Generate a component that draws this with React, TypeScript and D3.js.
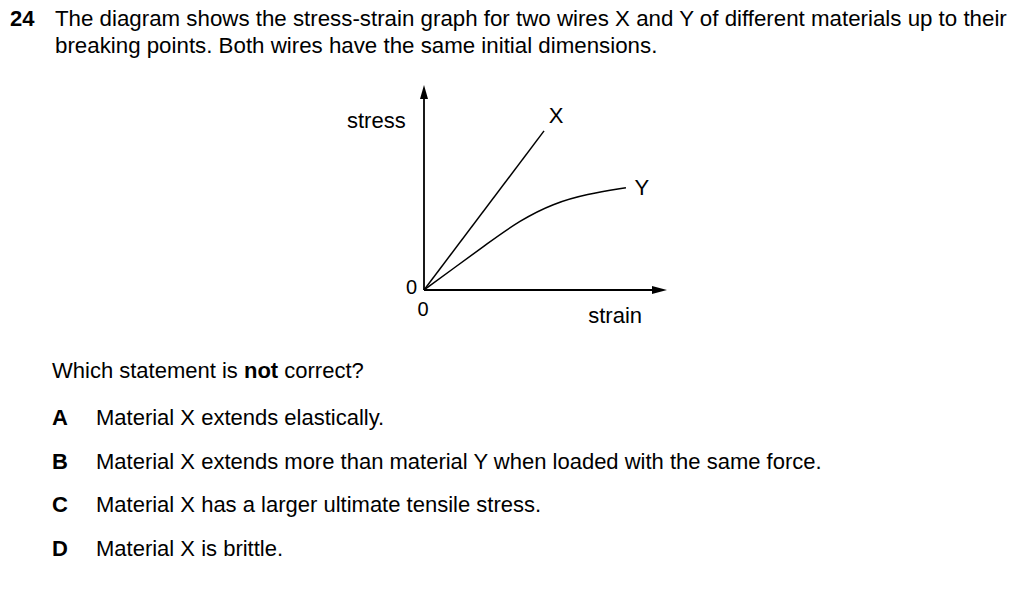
import React, { useRef, useEffect } from "react";
import * as d3 from "d3";

const width = 1024;
const height = 589;

// strain / stress in arbitrary units (axes go 0..10)
const lineX = [
  { strain: 0, stress: 0 },
  { strain: 4.94, stress: 7.76 }
];
const lineY = [
  { strain: 0, stress: 0 },
  { strain: 1.21, stress: 1.05 },
  { strain: 2.58, stress: 2.24 },
  { strain: 3.95, stress: 3.4 },
  { strain: 5.32, stress: 4.22 },
  { strain: 6.7, stress: 4.68 },
  { strain: 8.31, stress: 4.99 }
];

const questionLines = [
  "The diagram shows the stress-strain graph for two wires X and Y of different materials up to their",
  "breaking points. Both wires have the same initial dimensions."
];
const optionLetters = ["A", "B", "C", "D"];
const optionTexts = [
  "Material X extends elastically.",
  "Material X extends more than material Y when loaded with the same force.",
  "Material X has a larger ultimate tensile stress.",
  "Material X is brittle."
];

const font = "'Liberation Sans', Arial, sans-serif";
const fs = 22;

export default function App() {
  const ref = useRef<SVGSVGElement | null>(null);

  useEffect(() => {
    const svg = d3.select(ref.current);
    svg.selectAll("*").remove();

    svg.append("rect").attr("width", width).attr("height", height).attr("fill", "#fff");

    const txt = svg.append("g").attr("font-family", font).attr("fill", "#000");

    // question header
    txt.append("text").attr("x", 10).attr("y", 26).attr("font-size", fs)
      .attr("font-weight", "bold").text("24");
    questionLines.forEach((l, i) => {
      txt.append("text").attr("x", 55).attr("y", 26 + i * 27).attr("font-size", 22.3).text(l);
    });

    const x = d3.scaleLinear().domain([0, 10]).range([424, 667]);
    const y = d3.scaleLinear().domain([0, 10]).range([290, 85]);

    // axes
    const ax = svg.append("g").attr("stroke", "#000").attr("stroke-width", 1.8);
    ax.append("line").attr("x1", x(0)).attr("y1", y(0)).attr("x2", x(0)).attr("y2", y(10) + 10);
    ax.append("line").attr("x1", x(0)).attr("y1", y(0)).attr("x2", x(10) - 12).attr("y2", y(0));
    svg.append("path")
      .attr("d", `M${x(0)},${y(10)} L${x(0) - 4},${y(10) + 14} L${x(0) + 4},${y(10) + 14} Z`)
      .attr("fill", "#000");
    svg.append("path")
      .attr("d", `M${x(10)},${y(0)} L${x(10) - 15},${y(0) - 4} L${x(10) - 15},${y(0) + 4} Z`)
      .attr("fill", "#000");

    const line = d3.line<{ strain: number; stress: number }>()
      .x((d) => x(d.strain))
      .y((d) => y(d.stress))
      .curve(d3.curveBasis);

    [lineX, lineY].forEach((data) => {
      svg.append("path").attr("d", line(data)!).attr("fill", "none")
        .attr("stroke", "#000").attr("stroke-width", 1.5);
    });

    // labels
    txt.append("text").attr("x", 347).attr("y", 128).attr("font-size", fs).text("stress");
    txt.append("text").attr("x", 642).attr("y", 323).attr("font-size", fs)
      .attr("text-anchor", "end").text("strain");
    txt.append("text").attr("x", 417).attr("y", 294).attr("font-size", 20)
      .attr("text-anchor", "end").text("0");
    txt.append("text").attr("x", 423).attr("y", 316).attr("font-size", 20)
      .attr("text-anchor", "middle").text("0");
    const endX = lineX[lineX.length - 1];
    const endY = lineY[lineY.length - 1];
    txt.append("text").attr("x", x(endX.strain) + 12).attr("y", y(endX.stress) - 8)
      .attr("font-size", fs).attr("text-anchor", "middle").text("X");
    txt.append("text").attr("x", x(endY.strain) + 16).attr("y", y(endY.stress) + 7)
      .attr("font-size", fs).attr("text-anchor", "middle").text("Y");

    // question
    const q = txt.append("text").attr("x", 52).attr("y", 378).attr("font-size", fs);
    q.append("tspan").text("Which statement is ");
    q.append("tspan").attr("font-weight", "bold").text("not");
    q.append("tspan").text(" correct?");

    optionLetters.forEach((l, i) => {
      const yy = 425 + i * 43.5;
      txt.append("text").attr("x", 52).attr("y", yy).attr("font-size", fs)
        .attr("font-weight", "bold").text(l);
      txt.append("text").attr("x", 96).attr("y", yy).attr("font-size", fs).text(optionTexts[i]);
    });
  }, []);

  return (
    <svg
      ref={ref}
      width={width}
      height={height}
      style={{ position: "absolute", left: 0, top: 0, display: "block" }}
    />
  );
}
